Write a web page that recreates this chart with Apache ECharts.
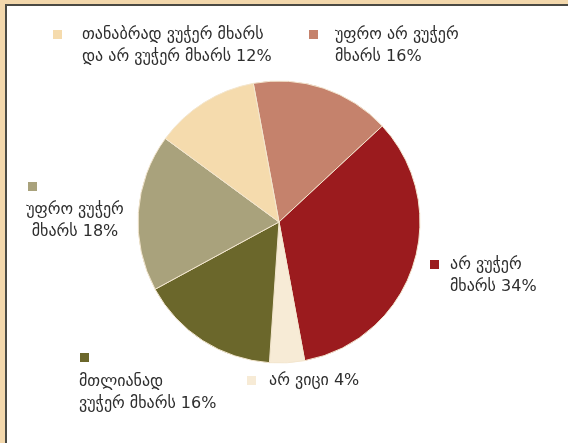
<!DOCTYPE html>
<html>
<head>
<meta charset="utf-8">
<script src="https://cdn.jsdelivr.net/npm/echarts@6/dist/echarts.min.js"></script>
<style>
  html, body { margin: 0; padding: 0; background: #F3D8AC; }
  #frame { position: absolute; left: 5px; top: 4px; width: 561px; height: 439px;
           background: #fff; border-left: 2px solid #4a4a44; border-top: 2px solid #4a4a44;
           border-right: 1px solid #cfcfcf; }
  #chart { position: absolute; left: 0; top: 0; width: 568px; height: 443px; }
</style>
</head>
<body>
<div id="frame"></div>
<div id="chart"></div>
<script>
// Data (clockwise from the top)
const categories = [
  'უფრო არ ვუჭერ\nმხარს',
  'არ ვუჭერ\nმხარს',
  'არ ვიცი',
  'მთლიანად\nვუჭერ მხარს',
  'უფრო ვუჭერ\nმხარს',
  'თანაბრად ვუჭერ მხარს\nდა არ ვუჭერ მხარს'
];
const values = [16, 34, 4, 16, 18, 12];
const colors = ['#C5826C', '#9B1B1E', '#F7EBD6', '#6B672B', '#A9A27C', '#F5DBAD'];

// Label layout (marker box, text anchor)
const layout = [
  { mx: 309, my: 30, tx: 335, ty: 24, align: 'left' },
  { mx: 430, my: 260, tx: 450, ty: 254, align: 'left' },
  { mx: 247, my: 376, tx: 269, ty: 370, align: 'left' },
  { mx: 80, my: 353, tx: 79, ty: 371, align: 'left' },
  { mx: 28, my: 182, tx: 75, ty: 199, align: 'center' },
  { mx: 53, my: 30, tx: 82, ty: 24, align: 'left' }
];

const chart = echarts.init(document.getElementById('chart'), null, { renderer: 'canvas' });

const graphics = [];
categories.forEach((c, i) => {
  const L = layout[i];
  graphics.push({
    type: 'rect', left: L.mx, top: L.my, silent: true,
    shape: { width: 9, height: 9 }, style: { fill: colors[i] }
  });
  graphics.push({
    type: 'text', silent: true,
    x: L.tx, y: L.ty,
    style: {
      text: c + ' ' + values[i] + '%',
      fill: '#2e2e2e',
      font: '16px "DejaVu Sans", sans-serif',
      lineHeight: 22,
      align: L.align,
      verticalAlign: 'top'
    }
  });
});

chart.setOption({
  backgroundColor: 'transparent',
  animation: false,
  color: colors,
  graphic: graphics,
  series: [{
    type: 'pie',
    center: [279, 222],
    radius: 141,
    startAngle: 100.5,
    clockwise: true,
    label: { show: false },
    labelLine: { show: false },
    itemStyle: { borderColor: '#F3E6CF', borderWidth: 1 },
    emphasis: { disabled: true },
    data: categories.map((c, i) => ({ name: c, value: values[i] }))
  }]
});
</script>
</body>
</html>
